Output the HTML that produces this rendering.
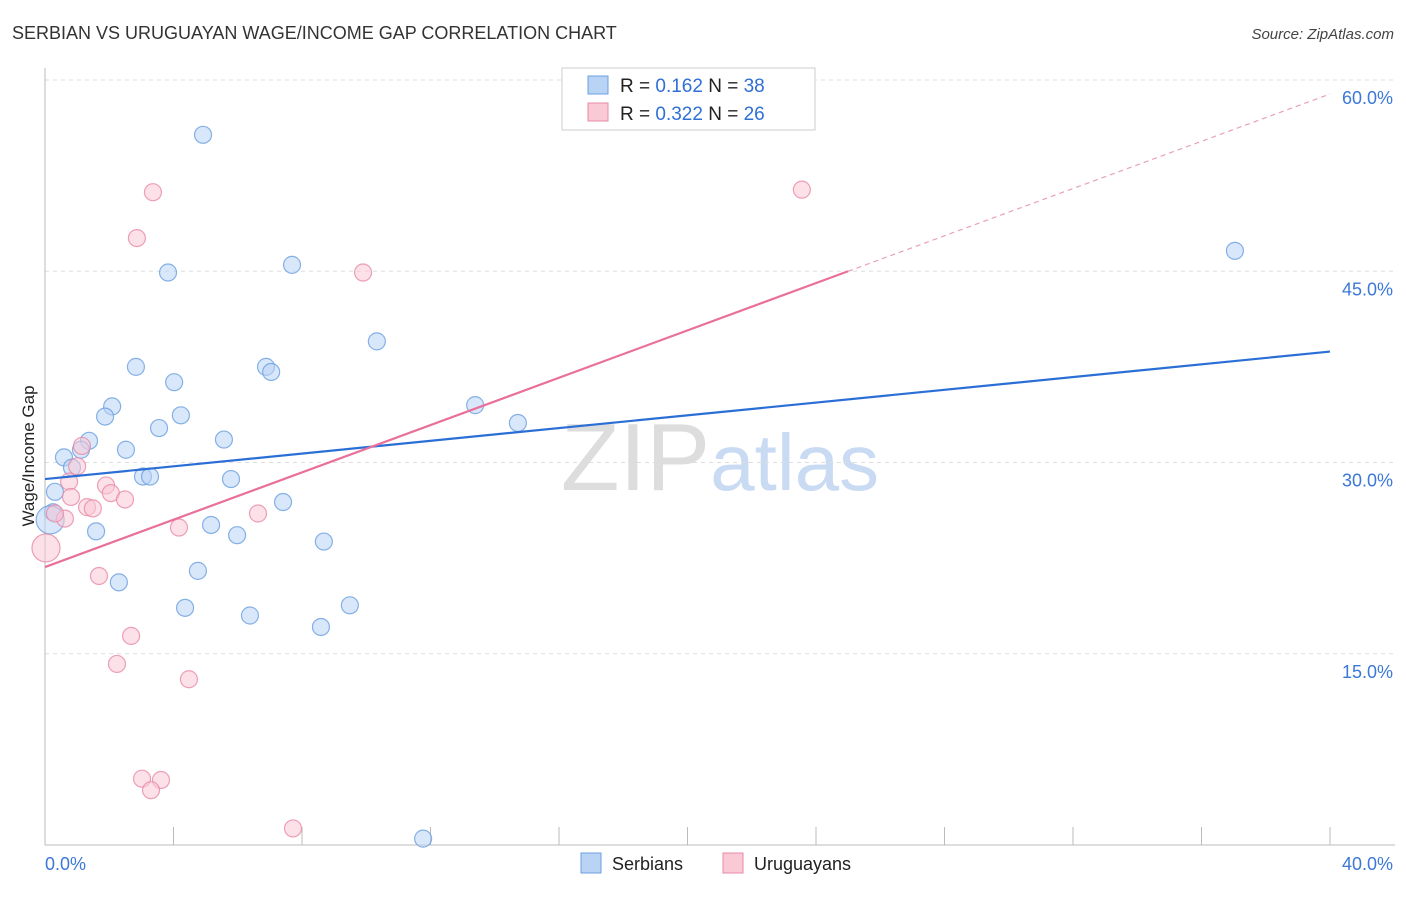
<!DOCTYPE html>
<html><head><meta charset="utf-8"><style>
body{margin:0;background:#fff;font-family:"Liberation Sans",sans-serif}
svg text{font-family:"Liberation Sans",sans-serif}
</style></head><body>
<svg id="chart" width="1406" height="892" viewBox="0 0 1406 892" xmlns="http://www.w3.org/2000/svg">
<text x="12" y="39" font-size="18" fill="#333">SERBIAN VS URUGUAYAN WAGE/INCOME GAP CORRELATION CHART</text>
<text x="1394" y="39" font-size="15" fill="#444" text-anchor="end" font-style="italic">Source: ZipAtlas.com</text>
<text x="720" y="490" font-size="96" fill="#ddd" text-anchor="middle" font-family="Liberation Serif">ZIP<tspan fill="#c9daf3" font-family="Liberation Sans" font-size="80">atlas</tspan></text>
<g id="grid"></g><g id="axes"></g><g id="pts"></g><g id="lines"></g>
<text transform="translate(34,456) rotate(-90)" font-size="17" fill="#222" text-anchor="middle">Wage/Income Gap</text>
<g>
<rect x="562" y="68" width="253" height="62" fill="#fff" stroke="#ccc"/>
<rect x="588" y="76" width="20" height="18" fill="#b9d3f5" stroke="#6a9fe0"/>
<text x="620" y="92" font-size="19" fill="#222">R = <tspan fill="#2f6fd6">0.162</tspan>   N = <tspan fill="#2f6fd6">38</tspan></text>
<rect x="588" y="103" width="20" height="18" fill="#f9c9d6" stroke="#e88aa6"/>
<text x="620" y="120" font-size="19" fill="#222">R = <tspan fill="#2f6fd6">0.322</tspan>   N = <tspan fill="#2f6fd6">26</tspan></text>
</g>
<g>
<rect x="581" y="853" width="20" height="20" fill="#b9d3f5" stroke="#6a9fe0"/>
<text x="612" y="870" font-size="18" fill="#222">Serbians</text>
<rect x="723" y="853" width="20" height="20" fill="#f9c9d6" stroke="#e88aa6"/>
<text x="754" y="870" font-size="18" fill="#222">Uruguayans</text>
</g>
</svg>
<script>
const yTicks=[15,30,45,60];
const xTickLabels=["0.0%","40.0%"];
const serbX=[4.92,7.69,3.83,10.33,2.83,6.88,7.04,4.02,2.09,1.87,4.23,13.39,14.72,3.55,1.37,5.57,2.52,1.12,0.59,0.84,3.05,3.27,5.79,0.31,0.25,0.16,7.41,1.59,5.17,5.98,8.68,4.76,2.30,4.36,9.49,6.38,8.59,11.77,37.04];
const serbY=[55.7,45.5,44.9,39.5,37.5,37.5,37.1,36.3,34.4,33.6,33.7,34.5,33.1,32.7,31.7,31.8,31.0,31.0,30.4,29.6,28.9,28.9,28.7,27.7,26.1,25.5,26.9,24.6,25.1,24.3,23.8,21.5,20.6,18.6,18.8,18.0,17.1,0.5,46.6];
const urugX=[3.36,2.86,23.56,9.90,1.15,1.0,0.75,0.81,1.90,2.05,2.49,1.31,1.49,0.62,0.03,4.17,6.63,1.68,2.68,2.24,4.48,3.02,3.61,3.30,7.72,0.31];
const urugY=[51.2,47.6,51.4,44.9,31.3,29.7,28.5,27.3,28.2,27.6,27.1,26.5,26.4,25.6,23.3,24.9,26.0,21.1,16.4,14.2,13.0,5.2,5.1,4.3,1.3,26.0];
const serbTrend=[28.7,38.7];
const urugTrend=[21.8,45.0,58.9];
const X0=45,X1=1330,Y0=845,PY=12.75;
const sx=v=>X0+(X1-X0)*v/40, sy=v=>Y0-v*PY;
const NS="http://www.w3.org/2000/svg";
function mk(tag,attrs,parent){const e=document.createElementNS(NS,tag);for(const k in attrs)e.setAttribute(k,attrs[k]);document.getElementById(parent).appendChild(e);return e;}
yTicks.forEach(t=>{
 const g=mk('line',{x1:45,x2:1395,y1:sy(t),y2:sy(t),stroke:'#ddd','stroke-dasharray':'4,4'},'grid');
 
 
 const l=mk('text',{x:1393,y:sy(t)+24,'font-size':18,fill:'#3b78d8','text-anchor':'end'},'grid');
 l.textContent=t.toFixed(1)+'%';
 
 
});
const ax=mk('line',{x1:45,x2:1395,y1:845,y2:845,stroke:'#bbb'},'axes');


const ay=mk('line',{x1:45,x2:45,y1:68,y2:845,stroke:'#bbb'},'axes');


for(let i=0;i<=40;i+=4){
 const t=mk('line',{x1:sx(i),x2:sx(i),y1:827,y2:845,stroke:'#bbb'},'axes');
 
 
}
[[0,'start'],[40,'end']].forEach((p,i)=>{
 const l=mk('text',{x:i?1393:45,y:870,'font-size':18,fill:'#3b78d8','text-anchor':p[1]},'axes');
 l.textContent=xTickLabels[i];
 
 
});
function pts(X,Y,fill,stroke,name){
 X.forEach((x,i)=>{
  const big=(x<0.2);
  const c=mk('circle',{cx:sx(x),cy:sy(Y[i]),r:big?14:8.5,fill:fill,'fill-opacity':0.55,stroke:stroke,'stroke-opacity':0.8,'stroke-width':1.2},'pts');
  
  
 });
}
pts(serbX,serbY,'#b9d3f5','#6a9fe0','serbian-point');
pts(urugX,urugY,'#f9c9d6','#e88aa6','uruguayan-point');
const bl=mk('line',{x1:sx(0),y1:sy(serbTrend[0]),x2:sx(40),y2:sy(serbTrend[1]),stroke:'#2b6fd6','stroke-width':2.2},'lines');


const pl=mk('line',{x1:sx(0),y1:sy(urugTrend[0]),x2:sx(25),y2:sy(urugTrend[1]),stroke:'#e8709a','stroke-width':2.2},'lines');


const pd=mk('line',{x1:sx(25),y1:sy(urugTrend[1]),x2:sx(40),y2:sy(urugTrend[2]),stroke:'#e8a0b8','stroke-width':1.2,'stroke-dasharray':'5,4'},'lines');


</script>
</body></html>
